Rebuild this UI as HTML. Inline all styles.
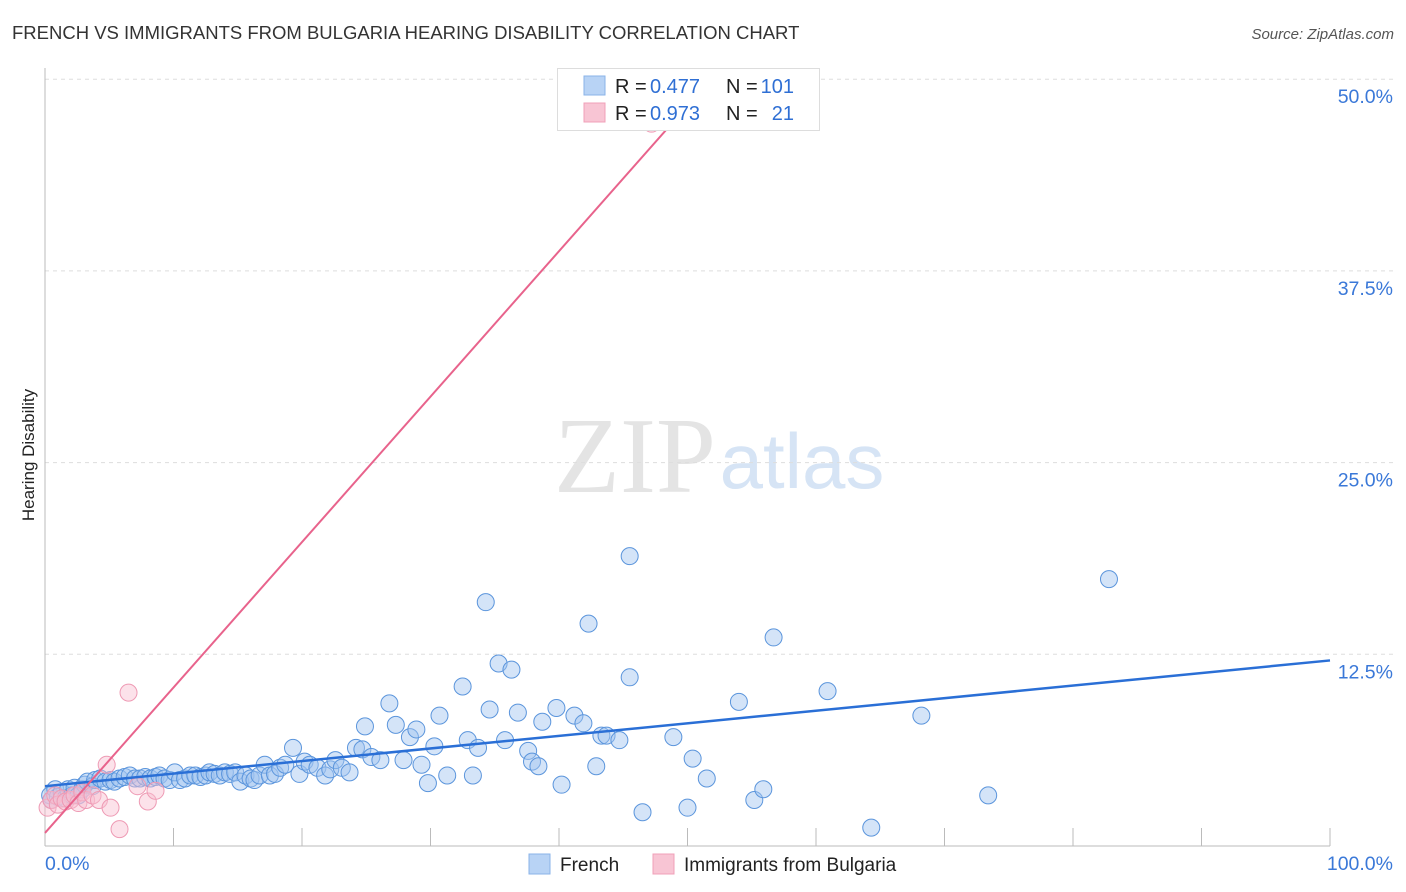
<!DOCTYPE html>
<html><head><meta charset="utf-8">
<style>
body{margin:0;background:#fff;font-family:"Liberation Sans",sans-serif;}
#wrap{position:relative;width:1406px;height:892px;overflow:hidden;}
</style></head>
<body><div id="wrap">
<svg id="chart" width="1406" height="892" xmlns="http://www.w3.org/2000/svg">
<text x="12" y="39" font-size="18.5" fill="#333">FRENCH VS IMMIGRANTS FROM BULGARIA HEARING DISABILITY CORRELATION CHART</text>
<text x="1394" y="39" font-size="15" fill="#555" font-style="italic" text-anchor="end">Source: ZipAtlas.com</text>
<text x="34" y="455" font-size="17" fill="#222" text-anchor="middle" transform="rotate(-90 34 455)">Hearing Disability</text>
<g><text x="635" y="492" font-size="108" fill="#e4e4e4" font-family="Liberation Serif" text-anchor="middle">ZIP</text><text x="802" y="488" font-size="78" fill="#d6e4f5" text-anchor="middle">atlas</text></g>
<g id="grid"></g><g id="axes"></g><g id="pts"></g><g id="lines"></g>
<g>
<rect x="557.5" y="68.5" width="262" height="62" fill="#fff" stroke="#ddd"/>
<rect x="584" y="76" width="21" height="19" fill="#b8d3f5" stroke="#8ab3e8"/>
<rect x="584" y="103" width="21" height="19" fill="#f8c5d4" stroke="#f0a0b8"/>
<text x="615" y="93" font-size="20" fill="#222">R =</text><text x="650" y="93" font-size="20" fill="#2f6fd4">0.477</text>
<text x="726" y="93" font-size="20" fill="#222">N =</text><text x="794" y="93" font-size="20" fill="#2f6fd4" text-anchor="end">101</text>
<text x="615" y="120" font-size="20" fill="#222">R =</text><text x="650" y="120" font-size="20" fill="#2f6fd4">0.973</text>
<text x="726" y="120" font-size="20" fill="#222">N =</text><text x="794" y="120" font-size="20" fill="#2f6fd4" text-anchor="end">21</text>
</g>
<g>
<rect x="529" y="854" width="21" height="20" fill="#b8d3f5" stroke="#8ab3e8"/>
<text x="560" y="871" font-size="19" fill="#222">French</text>
<rect x="653" y="854" width="21" height="20" fill="#f8c5d4" stroke="#f0a0b8"/>
<text x="684" y="871" font-size="19" fill="#222">Immigrants from Bulgaria</text>
</g>
</svg>
<script>
const yTicks=[12.5,25,37.5,50];
const yTickLabels=["12.5%","25.0%","37.5%","50.0%"];
const xTickLabels=["0.0%","100.0%"];
const frenchX=[0.4,0.5,0.8,1.0,1.3,1.6,1.8,2.1,2.3,2.6,2.9,3.1,3.3,3.7,3.9,4.3,4.7,5.1,5.4,5.8,6.2,6.6,7.0,7.4,7.8,8.2,8.6,8.9,9.3,9.7,10.1,10.5,10.9,11.3,11.7,12.1,12.5,12.8,13.2,13.6,14.0,14.4,14.8,15.2,15.6,16.0,16.3,16.7,17.1,17.5,17.9,18.3,18.7,19.3,19.8,20.2,20.6,21.2,21.8,22.2,22.6,23.1,23.7,24.2,24.7,24.9,25.4,26.1,26.8,27.3,27.9,28.4,28.9,29.3,29.8,30.3,30.7,31.3,32.5,32.9,33.3,33.7,34.3,34.6,35.3,35.8,36.3,36.8,37.6,37.9,38.4,38.7,39.8,40.2,41.2,41.9,42.3,42.9,43.3,43.7,44.7,45.5,45.5,46.5,48.9,50.0,50.4,51.5,54.0,55.2,55.9,56.7,60.9,64.3,68.2,73.4,82.8];
const frenchY=[3.3,3.0,3.7,3.2,3.5,3.1,3.7,3.3,3.8,3.3,3.7,4.0,4.2,3.9,4.3,4.4,4.2,4.3,4.2,4.4,4.5,4.6,4.4,4.4,4.5,4.4,4.5,4.6,4.4,4.3,4.8,4.3,4.4,4.6,4.6,4.5,4.6,4.8,4.7,4.6,4.8,4.7,4.8,4.2,4.6,4.4,4.3,4.6,5.3,4.6,4.7,5.1,5.3,6.4,4.7,5.5,5.3,5.1,4.6,5.0,5.6,5.1,4.8,6.4,6.3,7.8,5.8,5.6,9.3,7.9,5.6,7.1,7.6,5.3,4.1,6.5,8.5,4.6,10.4,6.9,4.6,6.4,15.9,8.9,11.9,6.9,11.5,8.7,6.2,5.5,5.2,8.1,9.0,4.0,8.5,8.0,14.5,5.2,7.2,7.2,6.9,18.9,11.0,2.2,7.1,2.5,5.7,4.4,9.4,3.0,3.7,13.6,10.1,1.2,8.5,3.3,17.4];
const bulgX=[0.2,0.5,0.8,1.0,1.3,1.6,2.0,2.3,2.6,2.9,3.2,3.7,4.2,4.8,5.1,5.8,6.5,7.2,8.0,8.6,47.2];
const bulgY=[2.5,3.0,3.3,2.7,3.1,2.9,3.0,3.3,2.8,3.5,3.0,3.3,3.0,5.3,2.5,1.1,10.0,3.9,2.9,3.6,47.1];
const frenchLine=[3.9,12.1];
const bulgLine=[0.85,47.7];
const L=45,R=1330,T0=846,PX=191.7/12.5;
const xs=v=>L+(R-L)*v/100, ys=v=>T0-v*PX;
const NS="http://www.w3.org/2000/svg";
function mk(t,a,p){const e=document.createElementNS(NS,t);for(const k in a)e.setAttribute(k,a[k]);p.appendChild(e);return e;}
const grid=document.getElementById('grid'),axes=document.getElementById('axes'),pts=document.getElementById('pts'),lines=document.getElementById('lines');
yTicks.forEach((t,i)=>{
 const g=mk('line',{x1:L,x2:1393,y1:ys(t),y2:ys(t),stroke:'#ddd','stroke-dasharray':'4 4'},grid);
 
 
 const tx=mk('text',{x:1393,y:ys(t)+24,'font-size':19.5,fill:'#3a78d8','text-anchor':'end'},grid);
 tx.textContent=yTickLabels[i];
 
 
});
const ya=mk('line',{x1:L,x2:L,y1:68,y2:T0,stroke:'#bbb'},axes);


const xa=mk('line',{x1:L,x2:R,y1:T0,y2:T0,stroke:'#bbb'},axes);


for(let i=1;i<=10;i++){const t=mk('line',{x1:xs(i*10),x2:xs(i*10),y1:828,y2:T0,stroke:'#bbb'},axes);
 
 }
[[0,'start',45],[100,'end',1393]].forEach((d,i)=>{const t=mk('text',{x:d[2],y:870,'font-size':19.5,fill:'#3a78d8','text-anchor':d[1]},axes);t.textContent=xTickLabels[i];
 
 });
frenchX.forEach((x,i)=>{const c=mk('circle',{cx:xs(x),cy:ys(frenchY[i]),r:8.5,fill:'rgba(160,196,240,0.45)',stroke:'#5b95dc','stroke-width':1},pts);
 
 });
bulgX.forEach((x,i)=>{const c=mk('circle',{cx:xs(x),cy:ys(bulgY[i]),r:8.5,fill:'rgba(248,190,208,0.45)',stroke:'#ee9ab4','stroke-width':1},pts);
 
 });
const fl=mk('line',{x1:xs(0),y1:ys(frenchLine[0]),x2:xs(100),y2:ys(frenchLine[1]),stroke:'#2a6fd6','stroke-width':2.5},lines);


const bl=mk('line',{x1:xs(0),y1:ys(bulgLine[0]),x2:xs(49.4),y2:ys(bulgLine[1]),stroke:'#e8638c','stroke-width':2},lines);


</script>
</div></body></html>
